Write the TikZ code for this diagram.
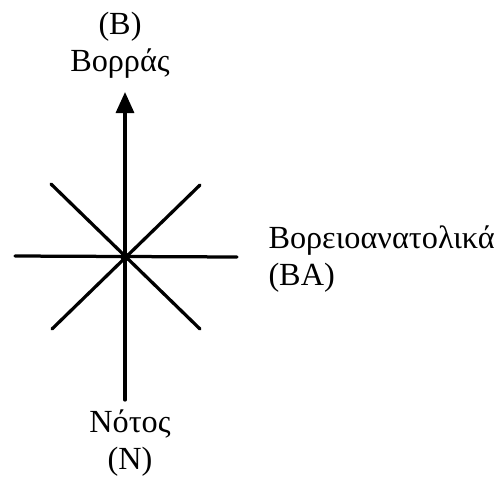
\documentclass[tikz,border=0pt]{standalone}
\usepackage{fontspec}
\setmainfont{Liberation Serif}
\usetikzlibrary{arrows.meta}

\begin{document}
\begin{tikzpicture}[
    x=0.4pt, y=-0.4pt,
    ray/.style={line width=1.3pt, line cap=round},
    arr/.style={ray, line cap=butt, -{Triangle[length=8.4pt,width=7.2pt]}},
    lbl/.style={font=\fontsize{12.9}{14.6}\selectfont, align=center, inner sep=0pt}
  ]
  \useasboundingbox (0,0) rectangle (499,481);

  % compass points
  \coordinate (c)  at (125,257);
  \coordinate (n)  at (125,92);
  \coordinate (s)  at (125,400);
  \coordinate (w)  at (15,256);
  \coordinate (e)  at (237,257);
  \coordinate (ne) at (200,185);
  \coordinate (nw) at (51,184);
  \coordinate (se) at (200,329);
  \coordinate (sw) at (52,329);

  \draw[arr] (c) -- (n);
  \draw[ray] (c) -- (s);
  \draw[ray] (w) -- (e);
  \draw[ray] (sw) -- (ne);
  \draw[ray] (nw) -- (se);
  \fill (c) circle (1.9pt);

  %% labels
  \node[lbl] (north) at (120,45) {(Β)\\Βορράς};
  \node[lbl] (south) at (130,443) {Νότος\\(Ν)};
  \node[lbl, align=left, anchor=west] (east) at (268,259) {Βορειοανατολικά\\(ΒΑ)};
\end{tikzpicture}
\end{document}
